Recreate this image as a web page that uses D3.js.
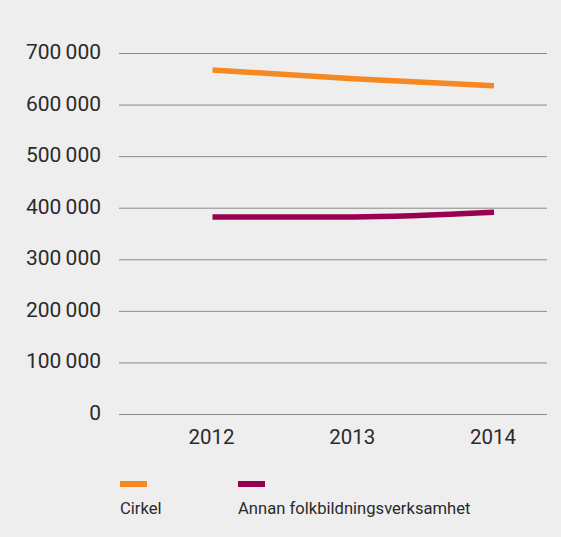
<!DOCTYPE html>
<html>
<head>
<meta charset="utf-8">
<script src="https://cdn.jsdelivr.net/npm/d3@7"></script>
<style>
  body { margin: 0; background: #eeeeee; }
  svg { display: block; font-family: Roboto, "Open Sans", sans-serif; }
</style>
</head>
<body>
<div class="chart"></div>
<script>
const years = ["2012", "2013", "2014"];
const cirkel = [667000, 650000, 636500];
const annan = [382000, 382000, 391000];
const yTicks = [0, 100000, 200000, 300000, 400000, 500000, 600000, 700000];
const seriesNames = ["Cirkel", "Annan folkbildningsverksamhet"];
const seriesColors = ["#f58820", "#9a0050"];

let width = 561, height = 537;

let svg = d3.select(".chart")
  .append("svg")
  .attr("width", width)
  .attr("height", height);

let x = d3.scalePoint().domain(years).range([212.5, 494]);
let y = d3.scaleLinear().domain([0, 700000]).range([414, 53]);

let fmt = function(v) {
  return d3.format(",")(v).replace(/,/g, "\u2009");
};

// grid lines
svg.append("g")
  .selectAll("line")
  .data(yTicks)
  .enter()
  .append("line")
  .attr("x1", 119)
  .attr("x2", 547)
  .attr("y1", d => y(d) + 0.5)
  .attr("y2", d => y(d) + 0.5)
  .attr("stroke", "#8a8a8a")
  .attr("stroke-width", 1);

// y labels
svg.append("g")
  .selectAll("text")
  .data(yTicks)
  .enter()
  .append("text")
  .attr("x", 101)
  .attr("y", d => y(d) + 6)
  .attr("text-anchor", "end")
  .attr("font-size", 21)
  .attr("fill", "#2a2a2a")
  .text(fmt);

// x labels
svg.append("g")
  .selectAll("text")
  .data(years)
  .enter()
  .append("text")
  .attr("x", d => x(d) - 1)
  .attr("y", 444)
  .attr("text-anchor", "middle")
  .attr("font-size", 20.5)
  .attr("fill", "#2a2a2a")
  .text(d => d);

let line = d3.line()
  .x((d, i) => x(years[i]))
  .y(d => y(d))
  .curve(d3.curveMonotoneX);

[cirkel, annan].forEach(function(s, i) {
  svg.append("path")
    .datum(s)
    .attr("d", line)
    .attr("fill", "none")
    .attr("stroke", seriesColors[i])
    .attr("stroke-width", 5.5);
});

// legend
let legendX = [120, 238];
seriesNames.forEach(function(name, i) {
  svg.append("rect")
    .attr("x", legendX[i])
    .attr("y", 481)
    .attr("width", 27)
    .attr("height", 6)
    .attr("fill", seriesColors[i]);
  svg.append("text")
    .attr("x", legendX[i])
    .attr("y", 514)
    .attr("font-size", 16.6)
    .attr("fill", "#2a2a2a")
    .text(name);
});
</script>
</body>
</html>
